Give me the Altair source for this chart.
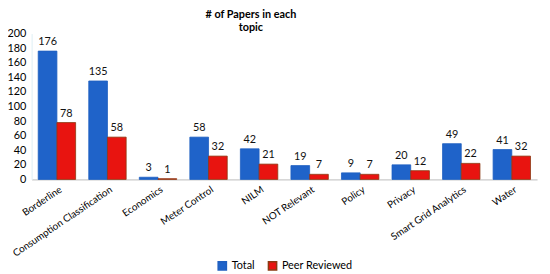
import altair as alt
import pandas as pd

categories = ["Borderline", "Consumption Classification", "Economics", "Meter Control",
              "NILM", "NOT Relevant", "Policy", "Privacy", "Smart Grid Analytics", "Water"]
total = [176, 135, 3, 58, 42, 19, 9, 20, 49, 41]
peer = [78, 58, 1, 32, 21, 7, 7, 12, 22, 32]
series = ["Total", "Peer Reviewed"]
y_ticks = [0, 20, 40, 60, 80, 100, 120, 140, 160, 180, 200]

rows = []
for c, t, p in zip(categories, total, peer):
    rows.append({"topic": c, "series": "Total", "value": t})
    rows.append({"topic": c, "series": "Peer Reviewed", "value": p})
df = pd.DataFrame(rows)

FONT = "Lato"
x = alt.X("topic:N", sort=categories, title=None,
          scale=alt.Scale(paddingInner=0.26, paddingOuter=0.13),
          axis=alt.Axis(labelAngle=-34, labelAlign="right", labelBaseline="middle",
                        labelFontSize=10, labelFont=FONT, labelColor="#000",
                        ticks=False, domainColor="#BBBBBB", labelPadding=9,
                        labelOffset=4))
y = alt.Y("value:Q", title=None,
          scale=alt.Scale(domain=[0, 200], nice=False),
          axis=alt.Axis(values=y_ticks, grid=False, ticks=False, domainColor="#DDEFF5",
                        labelFontSize=11, labelFont=FONT, labelColor="#000", labelPadding=6))
xo = alt.XOffset("series:N", sort=series)

bars = alt.Chart(df).mark_bar(strokeWidth=0.8).encode(
    x=x, y=y, xOffset=xo,
    color=alt.Color("series:N", sort=series,
                    scale=alt.Scale(domain=series, range=["#1F63C9", "#E81410"]),
                    legend=alt.Legend(title=None, orient="none", direction="horizontal",
                                      legendX=188, legendY=230, symbolType="square",
                                      symbolSize=70, labelFontSize=11, labelFont=FONT,
                                      labelColor="#000", columnPadding=10,
                                      symbolStrokeColor="#8B3A12")),
    stroke=alt.Stroke("series:N", sort=series,
                      scale=alt.Scale(domain=series, range=["#1F5FC0", "#8B3A12"]),
                      legend=None),
)
labels = alt.Chart(df).mark_text(dy=-9, fontSize=11, font=FONT, color="#111").encode(
    x=x, y=y, xOffset=xo, text="value:Q")

chart = alt.layer(bars, labels).properties(
    width=513, height=148,
    title=alt.TitleParams(["# of Papers in each", "topic"], fontSize=11, font=FONT,
                          fontWeight="bold", anchor="middle", dx=-34, dy=9, offset=4,
                          lineHeight=13, color="#000"),
    autosize=alt.AutoSizeParams(type="none"),
    padding={"left": 24, "top": 24, "right": 5, "bottom": 94},
).configure_view(stroke=None)

chart.save("out.html", embed_options={"renderer": "svg", "actions": False})
